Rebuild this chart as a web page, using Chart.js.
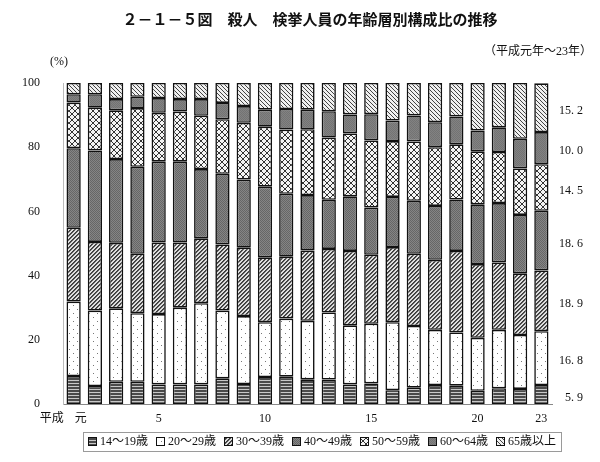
<!DOCTYPE html>
<html>
<head>
<meta charset="utf-8">
<script src="https://cdn.jsdelivr.net/npm/chart.js@4.4.1/dist/chart.umd.min.js"></script>
<style>
  html, body { margin: 0; padding: 0; background: #fff; }
  #wrap { width: 600px; height: 462px; }
</style>
</head>
<body>
<div id="wrap"><canvas id="chart" width="600" height="462"></canvas></div>
<script>
// -------------------------
// Data (平成元年～23年, %)
// -------------------------
const years = ["元", "2", "3", "4", "5", "6", "7", "8", "9", "10", "11", "12",
  "13", "14", "15", "16", "17", "18", "19", "20", "21", "22", "23"];
const shownYears = ["元", "5", "10", "15", "20", "23"];

const ageGroups = ["14～19歳", "20～29歳", "30～39歳", "40～49歳", "50～59歳", "60～64歳", "65歳以上"];

const age14to19 = [8.7, 5.6, 6.9, 6.9, 6.1, 6.1, 6.1, 8.0, 6.2, 8.4, 8.5, 7.7, 7.6, 6.1, 6.4, 4.3, 5.1, 5.9, 5.7, 4.1, 4.9, 4.7, 5.9];
const age20to29 = [23.2, 23.5, 22.9, 21.4, 21.9, 23.9, 25.3, 21.1, 21.2, 17.1, 18.1, 18.2, 20.9, 18.4, 18.6, 21.2, 19.2, 17.2, 16.6, 16.5, 18.2, 16.8, 16.8];
const age30to39 = [23.0, 21.4, 20.4, 18.5, 22.3, 20.3, 20.2, 20.6, 21.3, 20.2, 19.3, 21.9, 19.8, 23.2, 21.5, 23.4, 22.5, 21.8, 25.4, 23.0, 21.0, 19.2, 18.9];
const age40to49 = [24.8, 28.5, 26.1, 27.1, 25.2, 25.2, 21.6, 22.0, 21.2, 22.0, 19.6, 17.3, 15.3, 17.0, 14.7, 15.6, 16.5, 16.8, 16.0, 18.6, 18.5, 18.2, 18.6];
const age50to59 = [14.2, 13.3, 15.2, 18.3, 15.2, 15.6, 16.6, 17.0, 17.7, 18.7, 20.0, 20.5, 19.4, 19.6, 20.9, 17.4, 18.5, 18.3, 17.2, 16.5, 15.9, 14.5, 14.5];
const age60to64 = [2.6, 4.2, 3.5, 3.5, 4.6, 3.9, 5.2, 5.1, 5.2, 5.3, 6.4, 6.1, 8.2, 5.9, 8.2, 6.4, 8.1, 7.8, 8.7, 6.5, 7.7, 9.2, 10.0];
const age65plus = [3.5, 3.5, 5.0, 4.3, 4.7, 5.0, 5.0, 6.2, 7.2, 8.3, 8.1, 8.3, 8.8, 9.8, 9.7, 11.7, 10.1, 12.2, 10.4, 14.8, 13.8, 17.4, 15.2];

const yTicks = [0, 20, 40, 60, 80, 100];

// -------------------------
// Fill patterns
// -------------------------
function makePattern(w, h, paint) {
  const c = document.createElement("canvas");
  c.width = w; c.height = h;
  const g = c.getContext("2d");
  paint(g, w, h);
  return g.createPattern(c, "repeat");
}
function px(g, x, y, col) { g.fillStyle = col; g.fillRect(x, y, 1, 1); }

const patterns = [
  // 14-19: horizontal stripes
  makePattern(4, 3, (g, w) => {
    g.fillStyle = "#4a4a4a"; g.fillRect(0, 0, w, 2);
    g.fillStyle = "#c8c8c8"; g.fillRect(0, 2, w, 1);
  }),
  // 20-29: white with sparse dots
  makePattern(8, 8, (g, w, h) => {
    g.fillStyle = "#fff"; g.fillRect(0, 0, w, h);
    px(g, 1, 1, "#777"); px(g, 5, 5, "#777");
  }),
  // 30-39: dense "/" hatch
  makePattern(4, 4, (g, w, h) => {
    g.fillStyle = "#dedede"; g.fillRect(0, 0, w, h);
    for (let y = 0; y < h; y++) {
      px(g, (w - 1 - y + w) % w, y, "#3a3a3a");
      px(g, (w - y + w) % w, y, "#555");
    }
  }),
  // 40-49: dark gray fine texture
  makePattern(2, 2, (g) => {
    px(g, 0, 0, "#666"); px(g, 1, 1, "#666");
    px(g, 1, 0, "#858585"); px(g, 0, 1, "#858585");
  }),
  // 50-59: diamond lattice
  makePattern(6, 6, (g, w, h) => {
    g.fillStyle = "#f4f4f4"; g.fillRect(0, 0, w, h);
    for (let i = 0; i < w; i++) {
      px(g, i, i, "#333");
      px(g, w - 1 - i, i, "#333");
    }
  }),
  // 60-64: dark gray
  makePattern(2, 2, (g) => {
    px(g, 0, 0, "#737373"); px(g, 1, 1, "#737373");
    px(g, 1, 0, "#828282"); px(g, 0, 1, "#828282");
  }),
  // 65+: thin "\" hatch
  makePattern(4, 4, (g, w, h) => {
    g.fillStyle = "#f0f0f0"; g.fillRect(0, 0, w, h);
    for (let y = 0; y < h; y++) px(g, y, y, "#444");
  })
];

const seriesValues = [age14to19, age20to29, age30to39, age40to49, age50to59, age60to64, age65plus];

// -------------------------
// Overlay texts and legend
// -------------------------
const serifFont = "'Liberation Serif', 'Noto Sans CJK JP', serif";

const overlay = {
  id: "overlay",
  afterDraw(chart) {
    const ctx = chart.ctx;
    const area = chart.chartArea;
    const x = chart.scales.x;
    ctx.save();
    ctx.fillStyle = "#111";

    // title
    ctx.font = "bold 15px 'Noto Sans CJK JP'";
    ctx.textAlign = "center";
    ctx.textBaseline = "middle";
    ctx.fillText("２－１－５図　殺人　検挙人員の年齢層別構成比の推移", 310, 19);

    ctx.font = "12px " + serifFont;
    ctx.textAlign = "right";
    ctx.fillText("（平成元年～23年）", 592, 52);
    ctx.textAlign = "left";
    ctx.fillText("(%)", 50, 62);

    // year labels
    ctx.textAlign = "center";
    ctx.textBaseline = "middle";
    years.forEach((y, i) => {
      if (!shownYears.includes(y)) return;
      const cx = x.getPixelForValue(i);
      if (i === 0) {
        ctx.fillText("平成", cx - 22, area.bottom + 15);
        ctx.fillText(y, cx + 7, area.bottom + 15);
      } else {
        ctx.fillText(y, cx, area.bottom + 15);
      }
    });

    // values of the last year at the right
    const last = years.length - 1;
    ctx.textAlign = "right";
    chart.data.datasets.forEach((ds, di) => {
      const bar = chart.getDatasetMeta(di).data[last];
      const cy = (bar.y + bar.base) / 2 + 3;
      ctx.fillText(ds.data[last].toFixed(1).replace(".", ". "), area.right + 31, cy);
    });

    // legend
    ctx.font = "12px " + serifFont;
    const box = 9, gapBox = 3, gapItem = 8;
    let total = 0;
    const widths = ageGroups.map(t => ctx.measureText(t).width);
    widths.forEach(w => total += box + gapBox + w);
    total += gapItem * (ageGroups.length - 1);
    let lx = 322 - total / 2;
    const ly = 442;
    ctx.strokeStyle = "#9a9a9a";
    ctx.lineWidth = 1;
    ctx.strokeRect(Math.round(lx - 5) + 0.5, ly - 9.5, Math.round(total + 10), 19);
    ctx.textAlign = "left";
    ageGroups.forEach((t, i) => {
      ctx.fillStyle = patterns[i];
      ctx.fillRect(lx, ly - 5, box, box);
      ctx.strokeStyle = "#111";
      ctx.strokeRect(Math.round(lx) + 0.5, ly - 4.5, box - 1, box - 1);
      ctx.fillStyle = "#111";
      ctx.fillText(t, lx + box + gapBox, ly);
      lx += box + gapBox + widths[i] + gapItem;
    });
    ctx.restore();
  }
};

// -------------------------
// Chart
// -------------------------
const ctx = document.getElementById("chart").getContext("2d");

new Chart(ctx, {
  type: "bar",
  data: {
    labels: years,
    datasets: ageGroups.map((name, i) => ({
      label: name,
      data: seriesValues[i],
      backgroundColor: patterns[i],
      borderColor: "#111",
      borderWidth: 1.6,
      borderSkipped: false,
      barPercentage: 0.67,
      categoryPercentage: 1
    }))
  },
  options: {
    responsive: false,
    animation: false,
    devicePixelRatio: 1,
    layout: { padding: { top: 83, bottom: 50, left: 0, right: 48 } },
    plugins: {
      legend: { display: false },
      title: { display: false },
      tooltip: { enabled: false }
    },
    scales: {
      x: {
        stacked: true,
        grid: { display: false },
        border: { display: true, color: "#888", width: 1 },
        ticks: { display: false }
      },
      y: {
        stacked: true,
        min: 0,
        max: 100,
        afterFit(scale) { scale.width = 63; },
        afterBuildTicks(scale) { scale.ticks = yTicks.map(v => ({ value: v })); },
        grid: { display: false },
        border: { display: true, color: "#bbb", width: 1 },
        ticks: {
          padding: 15,
          color: "#111",
          font: { family: "'Liberation Serif', serif", size: 12 }
        }
      }
    }
  },
  plugins: [overlay]
});
</script>
</body>
</html>
